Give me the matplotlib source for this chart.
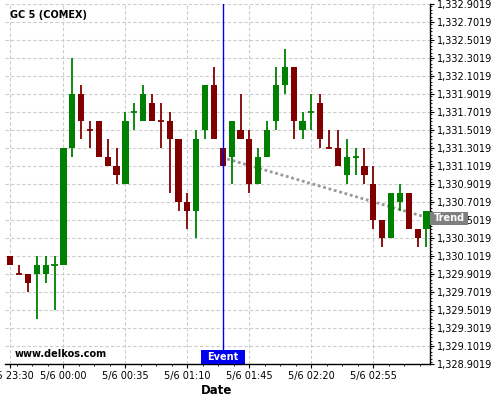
import matplotlib
matplotlib.use("Agg")
import matplotlib.pyplot as plt
import matplotlib.transforms as mtransforms
from matplotlib.patches import Rectangle
from matplotlib.ticker import MultipleLocator, FixedLocator, FuncFormatter
import numpy as np

# 5-minute candles, GC 5 (COMEX), 5/5 23:30 -> 5/6 03:25
opens = [1330.1, 1329.9, 1329.9, 1329.9, 1329.9, 1330.0, 1330.0, 1331.3, 1331.9, 1331.5,
         1331.6, 1331.2, 1331.1, 1330.9, 1331.7, 1331.6, 1331.8, 1331.6, 1331.6, 1331.4,
         1330.7, 1330.6, 1331.5, 1332.0, 1331.3, 1331.2, 1331.5, 1331.4, 1330.9, 1331.2,
         1331.6, 1332.0, 1332.2, 1331.5, 1331.7, 1331.8, 1331.3, 1331.3, 1331.0, 1331.2,
         1331.1, 1330.9, 1330.5, 1330.3, 1330.7, 1330.8, 1330.4, 1330.4]
highs = [1330.1, 1330.0, 1329.9, 1330.1, 1330.1, 1330.1, 1331.3, 1332.3, 1332.0, 1331.6,
         1331.6, 1331.4, 1331.3, 1331.7, 1331.8, 1332.0, 1331.9, 1331.8, 1331.7, 1331.4,
         1330.8, 1331.5, 1332.0, 1332.2, 1331.3, 1331.6, 1331.9, 1331.5, 1331.3, 1331.6,
         1332.2, 1332.4, 1332.2, 1331.7, 1331.9, 1331.9, 1331.5, 1331.5, 1331.4, 1331.3,
         1331.3, 1331.1, 1330.5, 1330.8, 1330.9, 1330.8, 1330.4, 1330.6]
lows = [1330.0, 1329.9, 1329.7, 1329.4, 1329.8, 1329.5, 1330.0, 1331.2, 1331.4, 1331.3,
        1331.2, 1331.1, 1330.9, 1330.9, 1331.5, 1331.6, 1331.6, 1331.3, 1330.8, 1330.6,
        1330.4, 1330.3, 1331.4, 1331.4, 1331.1, 1330.9, 1331.4, 1330.8, 1330.9, 1331.2,
        1331.5, 1331.9, 1331.4, 1331.4, 1331.5, 1331.3, 1331.3, 1331.1, 1330.9, 1331.0,
        1330.9, 1330.4, 1330.2, 1330.3, 1330.6, 1330.4, 1330.2, 1330.2]
closes = [1330.0, 1329.9, 1329.8, 1330.0, 1330.0, 1330.0, 1331.3, 1331.9, 1331.6, 1331.5,
          1331.2, 1331.1, 1331.0, 1331.6, 1331.7, 1331.9, 1331.6, 1331.6, 1331.4, 1330.7,
          1330.6, 1331.4, 1332.0, 1331.4, 1331.1, 1331.6, 1331.4, 1330.9, 1331.2, 1331.5,
          1332.0, 1332.2, 1331.6, 1331.6, 1331.7, 1331.4, 1331.3, 1331.1, 1331.2, 1331.2,
          1331.0, 1330.5, 1330.3, 1330.8, 1330.8, 1330.4, 1330.3, 1330.6]

tick_pos = [0, 6, 13, 20, 27, 34, 41]
tick_labels = ["5/5 23:30", "5/6 00:00", "5/6 00:35", "5/6 01:10",
               "5/6 01:45", "5/6 02:20", "5/6 02:55"]

event_idx = 24
trend_x = [24.5, 47.4]
trend_y = [1331.18, 1330.52]

up_color = "#008000"
down_color = "#800000"

fig = plt.figure(figsize=(5, 4), dpi=100)
ax = fig.add_axes([5 / 500, 36 / 400, 425 / 500, 360 / 400])

x = np.arange(len(opens))
o = np.array(opens)
h = np.array(highs)
l = np.array(lows)
c = np.array(closes)

# colour: up/down, doji keeps previous candle's colour
colors = []
for i in range(len(o)):
    if c[i] > o[i]:
        colors.append(up_color)
    elif c[i] < o[i]:
        colors.append(down_color)
    else:
        colors.append(colors[-1] if colors else down_color)

ax.vlines(x, l, h, colors=colors, lw=1.3, zorder=3)
body_w = 0.7
for i in range(len(o)):
    if c[i] == o[i]:
        ax.hlines(o[i], x[i] - body_w / 2, x[i] + body_w / 2, colors=colors[i], lw=1.3, zorder=3)
    else:
        ax.bar(x[i], abs(c[i] - o[i]), bottom=min(o[i], c[i]), width=body_w,
               color=colors[i], zorder=3, linewidth=0)

# event line and trend
ax.axvline(event_idx, color="#0000ee", lw=1, zorder=4)
ax.plot(trend_x, trend_y, color="#999999", lw=2, linestyle=(0, (1, 1)), zorder=2)

ax.set_xlim(-0.6, 47.4)
ax.set_ylim(1328.9019, 1332.9019)

ax.xaxis.set_major_locator(FixedLocator(tick_pos))
ax.set_xticklabels(tick_labels)
ax.xaxis.set_minor_locator(FixedLocator(np.arange(0.75, 47.4, 1.75)))

ax.yaxis.tick_right()
ax.yaxis.set_major_locator(MultipleLocator(0.2))
ax.yaxis.set_minor_locator(MultipleLocator(0.04))
ax.yaxis.set_major_formatter(FuncFormatter(lambda v, p: f"{v:,.4f}"))
ax.set_yticks(np.arange(1328.9019, 1332.91, 0.2))

ax.tick_params(axis="both", which="major", labelsize=7, length=3, width=0.8, pad=2)
ax.tick_params(axis="both", which="minor", length=1.5, width=0.6)

for s in ["left", "top"]:
    ax.spines[s].set_visible(False)
ax.spines["bottom"].set_linewidth(1)
ax.spines["right"].set_linewidth(1)

ax.grid(True, which="major", color="#cccccc", lw=0.8, linestyle=(0, (3, 2)))
ax.set_axisbelow(True)

# labels
fig.text(10 / 500, 1 - 10 / 400, "GC 5 (COMEX)", fontsize=7, fontweight="bold", va="top")
fig.text(15 / 500, 1 - 354 / 400, "www.delkos.com", fontsize=7, fontweight="bold", va="center")
fig.text(217 / 500, 1 - 390 / 400, "Date", fontsize=8.5, fontweight="bold", ha="center", va="center")

# event tag: box 44 px wide, 14 px tall, on the x axis
px_x = (47.4 + 0.6) / 425
trans_ev = mtransforms.blended_transform_factory(ax.transData, ax.transAxes)
ax.add_patch(Rectangle((event_idx - 22 * px_x, 0), 44 * px_x, 14 / 360,
                       transform=trans_ev, fc="#0000ee", ec="none", zorder=6, clip_on=False))
ax.text(event_idx, 7 / 360, "Event", transform=trans_ev, ha="center", va="center",
        color="white", fontsize=7, fontweight="bold", zorder=7)

# trend tag: box 38 px wide, 13 px tall, at the right axis
px_y = 4.0 / 360
trans_tr = mtransforms.blended_transform_factory(ax.transAxes, ax.transData)
ax.add_patch(Rectangle((1.0, trend_y[1] - 6.5 * px_y), 38 / 425, 13 * px_y,
                       transform=trans_tr, fc="#808080", ec="none", zorder=6, clip_on=False))
ax.text(1.0 + 19 / 425, trend_y[1], "Trend", transform=trans_tr, ha="center", va="center",
        color="white", fontsize=7, fontweight="bold", zorder=7, clip_on=False)

fig.savefig("out.png", dpi=100)
